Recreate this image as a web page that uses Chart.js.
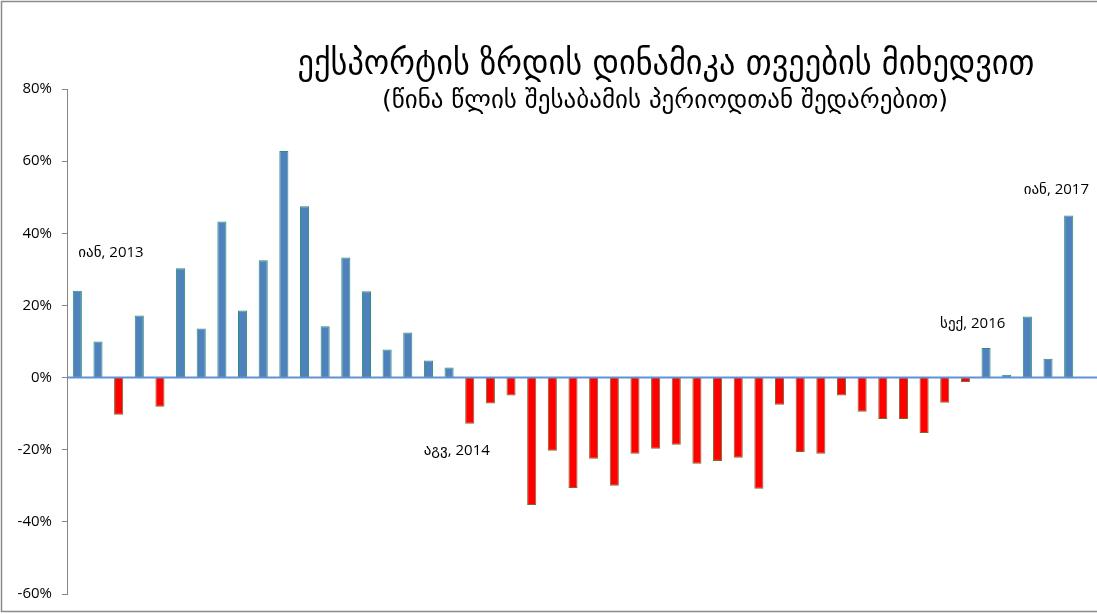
<!DOCTYPE html>
<html>
<head>
<meta charset="utf-8">
<script src="https://cdn.jsdelivr.net/npm/chart.js@4"></script>
<style>
    html, body { margin: 0; padding: 0; background: #fff; overflow: hidden; }
    #wrap { width: 1097px; height: 614px; position: relative; }
</style>
</head>
<body>
<div id="wrap"><canvas id="export-chart"></canvas></div>
<script>
// --- Data (y/y export growth, %) ---

const months = [
    'იან 2013', 'თებ 2013', 'მარ 2013', 'აპრ 2013', 'მაი 2013', 'ივნ 2013',
    'ივლ 2013', 'აგვ 2013', 'სექ 2013', 'ოქტ 2013', 'ნოე 2013', 'დეკ 2013',
    'იან 2014', 'თებ 2014', 'მარ 2014', 'აპრ 2014', 'მაი 2014', 'ივნ 2014',
    'ივლ 2014', 'აგვ 2014', 'სექ 2014', 'ოქტ 2014', 'ნოე 2014', 'დეკ 2014',
    'იან 2015', 'თებ 2015', 'მარ 2015', 'აპრ 2015', 'მაი 2015', 'ივნ 2015',
    'ივლ 2015', 'აგვ 2015', 'სექ 2015', 'ოქტ 2015', 'ნოე 2015', 'დეკ 2015',
    'იან 2016', 'თებ 2016', 'მარ 2016', 'აპრ 2016', 'მაი 2016', 'ივნ 2016',
    'ივლ 2016', 'აგვ 2016', 'სექ 2016', 'ოქტ 2016', 'ნოე 2016', 'დეკ 2016',
    'იან 2017'
];

const growth = [
    24.1, 10.0, -10.3, 17.2, -8.1, 30.3, 13.6, 43.3, 18.6, 32.5, 62.8, 47.5,
    14.2, 33.3, 23.9, 7.8, 12.5, 4.7, 2.8, -12.8, -7.2, -5.0, -35.3, -20.3,
    -30.6, -22.5, -30.0, -21.1, -19.7, -18.6, -23.9, -23.1, -22.2, -30.8, -7.5, -20.6,
    -21.1, -5.0, -9.5, -11.5, -11.5, -15.4, -7.0, -1.2, 8.2, 0.8, 16.9, 5.2,
    44.9
];

const yTicks = [-60, -40, -20, 0, 20, 40, 60, 80];

const titleText = 'ექსპორტის ზრდის დინამიკა თვეების მიხედვით';
const subtitleText = '(წინა წლის შესაბამის პერიოდთან შედარებით)';

// callouts: month index + y value where the note sits
const notes = [
    { text: 'იან, 2013', idx: 0, v: 34.7, dx: 1 },
    { text: 'აგვ, 2014', idx: 19, v: -20.3, dx: -46 },
    { text: 'სექ, 2016', idx: 44, v: 15.0, dx: -46 },
    { text: 'იან, 2017', idx: 48, v: 52.2, dx: -45 }
];

// --- Colors ---
const POS_FILL = '#4F81BD';
const POS_EDGE = '#2A8F78';
const NEG_FILL = '#FF0000';
const NEG_EDGE = '#7A6A30';
const AXIS_GRAY = '#868686';

// --- Plugins ---

const decor = {
    id: 'decor',
    beforeDraw(chart) {
        const c = chart.ctx;
        c.save();
        c.fillStyle = '#fff';
        c.fillRect(0, 0, chart.width, chart.height);
        c.restore();
    },
    afterDatasetsDraw(chart) {
        // zero line runs to the right edge (chart is cropped there)
        const c = chart.ctx;
        const y0 = chart.scales.y.getPixelForValue(0);
        c.save();
        c.strokeStyle = '#5E93D3';
        c.lineWidth = 2;
        c.beginPath();
        c.moveTo(chart.chartArea.left, y0);
        c.lineTo(chart.width, y0);
        c.stroke();
        c.restore();
    },
    afterDraw(chart) {
        const c = chart.ctx;
        c.save();

        // outer frame (left, top, bottom)
        c.strokeStyle = '#8a8a8a';
        c.lineWidth = 1.5;
        c.beginPath();
        c.moveTo(chart.width, 1.5);
        c.lineTo(1.5, 1.5);
        c.lineTo(1.5, 611.5);
        c.lineTo(chart.width, 611.5);
        c.stroke();

        // titles, squeezed to the narrow look of the original font
        c.fillStyle = '#000';
        c.textBaseline = 'alphabetic';
        drawFit(c, titleText, '34px "DejaVu Sans"', 666, 74, 737);
        drawFit(c, subtitleText, '25px "DejaVu Sans"', 665, 108, 566);

        // callouts
        c.font = '15px "Open Sans", "DejaVu Sans"';
        c.textAlign = 'left';
        c.textBaseline = 'middle';
        const xs = chart.scales.x, ys = chart.scales.y;
        notes.forEach(n => {
            c.fillText(n.text, xs.getPixelForValue(n.idx) + n.dx, ys.getPixelForValue(n.v));
        });
        c.restore();
    }
};

function drawFit(c, text, font, cx, y, width) {
    c.font = font;
    const w = c.measureText(text).width;
    const k = width / w;
    c.save();
    c.translate(cx, y);
    c.scale(k, 1);
    c.textAlign = 'center';
    c.fillText(text, 0, 0);
    c.restore();
}

// --- Chart ---

const ctx = document.getElementById('export-chart').getContext('2d');
const chart = new Chart(ctx, {
    type: 'bar',
    data: {
        labels: months,
        datasets: [{
            data: growth,
            backgroundColor: c => (c.raw < 0 ? NEG_FILL : POS_FILL),
            borderColor: c => (c.raw < 0 ? NEG_EDGE : POS_EDGE),
            borderWidth: 1,
            barPercentage: 0.44,
            categoryPercentage: 1.0
        }]
    },
    options: {
        responsive: true,
        maintainAspectRatio: false,
        animation: false,
        layout: { padding: { left: 0, right: 18, top: 89, bottom: 20 } },
        scales: {
            x: { display: false },
            y: {
                min: -60,
                max: 80,
                afterBuildTicks: s => { s.ticks = yTicks.map(v => ({ value: v })); },
                afterFit: s => { s.width = 67; },
                border: { display: true, color: AXIS_GRAY, width: 1 },
                grid: {
                    drawOnChartArea: false,
                    drawTicks: true,
                    tickLength: 5,
                    tickColor: AXIS_GRAY
                },
                ticks: {
                    padding: 10,
                    color: '#000',
                    font: { family: '"Open Sans", "DejaVu Sans"', size: 15 },
                    callback: v => v + '%'
                }
            }
        },
        plugins: {
            legend: { display: false },
            tooltip: { enabled: false }
        }
    },
    plugins: [decor]
});
</script>
</body>
</html>
